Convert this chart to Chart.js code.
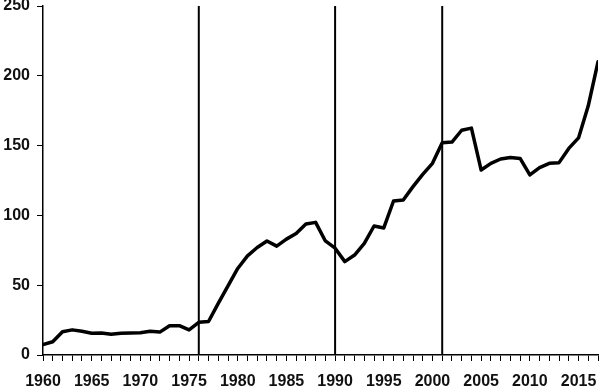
<!DOCTYPE html>
<html>
<head>
<meta charset="utf-8">
<script src="https://cdn.jsdelivr.net/npm/chart.js@4/dist/chart.umd.min.js"></script>
<style>
html,body{margin:0;padding:0;background:#fff;}
#wrap{width:600px;height:387px;position:relative;}
</style>
</head>
<body>
<div id="wrap"><canvas id="c"></canvas></div>
<script>
const years = [1960,1961,1962,1963,1964,1965,1966,1967,1968,1969,1970,1971,1972,1973,1974,1975,1976,1977,1978,1979,1980,1981,1982,1983,1984,1985,1986,1987,1988,1989,1990,1991,1992,1993,1994,1995,1996,1997,1998,1999,2000,2001,2002,2003,2004,2005,2006,2007,2008,2009,2010,2011,2012,2013,2014,2015,2016,2017];
const values = [7.5,9.5,16.7,18,17,15.6,15.8,14.8,15.5,15.8,16,17,16.4,21,21,18,23.4,24,37,49.5,62,71,77,81.7,78,83,87,93.8,95,81.7,76.5,66.9,71.6,80,92.4,91,110.3,111,120.6,129.4,137.3,152,152.5,161,162.5,132.5,137.3,140.4,141.5,140.8,129,134.2,137.3,137.8,148,155.5,178.5,210];
const markerYears = [1976,1990,2001];
const yTicks = [0,50,100,150,200,250];

const font = {family:'"Liberation Sans", Arial, Helvetica, sans-serif', size:16, weight:'bold'};

const datasets = [{
  data: years.map((y,i)=>({x:y,y:values[i]})),
  borderColor:'#000', borderWidth:3.5, pointRadius:0, tension:0, fill:false,
  borderJoinStyle:'round', borderCapStyle:'round'
}];
markerYears.forEach(m=>{
  datasets.push({
    data:[{x:m,y:yTicks[0]},{x:m,y:yTicks[yTicks.length-1]}],
    borderColor:'#000', borderWidth:2, pointRadius:0, fill:false
  });
});

new Chart(document.getElementById('c'), {
  type:'line',
  data:{datasets},
  options:{
    responsive:true, maintainAspectRatio:false, animation:false,
    layout:{padding:{top:6,right:2,left:0,bottom:0}},
    plugins:{legend:{display:false}, tooltip:{enabled:false}},
    scales:{
      x:{
        type:'linear', min:years[0], max:years[years.length-1],
        border:{display:true,color:'#000',width:1.5},
        grid:{display:true,drawOnChartArea:false,drawTicks:true,tickLength:6,color:'#000',lineWidth:1},
        ticks:{stepSize:1,autoSkip:false,maxRotation:0,minRotation:0,color:'#111',font,padding:11,
          callback:(v)=> (v%5===0 ? String(v) : '')},
        afterFit:(s)=>{s.height=32; s.paddingLeft=0; s.paddingRight=0;}
      },
      y:{
        min:yTicks[0], max:yTicks[yTicks.length-1],
        border:{display:true,color:'#000',width:1.5},
        grid:{display:true,drawOnChartArea:false,drawTicks:true,tickLength:6,color:'#000',lineWidth:1},
        afterBuildTicks:(s)=>{s.ticks=yTicks.map(v=>({value:v}));},
        ticks:{color:'#111',font,padding:7},
        afterFit:(s)=>{s.width=43; s.paddingTop=0; s.paddingBottom=0;}
      }
    }
  }
});
</script>
</body>
</html>
